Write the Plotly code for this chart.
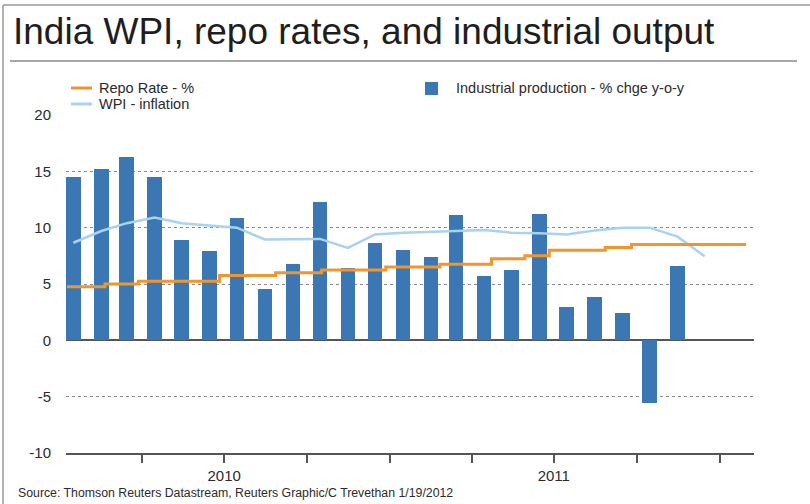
import plotly.graph_objects as go

# ---------------- data ----------------
months_iip = ["2010-01", "2010-02", "2010-03", "2010-04", "2010-05", "2010-06",
              "2010-07", "2010-08", "2010-09", "2010-10", "2010-11", "2010-12",
              "2011-01", "2011-02", "2011-03", "2011-04", "2011-05", "2011-06",
              "2011-07", "2011-08", "2011-09", "2011-10", "2011-11"]
iip = [14.5, 15.2, 16.3, 14.5, 8.9, 7.9, 10.85, 4.6, 6.8, 12.3, 6.4, 8.65,
       8.0, 7.4, 11.1, 5.7, 6.2, 11.2, 3.0, 3.85, 2.4, -5.55, 6.6]

months_wpi = months_iip + ["2011-12"]
wpi = [8.66, 9.7, 10.4, 10.9, 10.4, 10.2, 10.0, 8.95, 9.0, 9.0, 8.2, 9.4,
       9.55, 9.6, 9.7, 9.8, 9.55, 9.5, 9.4, 9.75, 10.0, 10.0, 9.2, 7.47]

repo_dates = ["2010-01-08", "2010-02-19", "2010-03-28", "2010-06-26", "2010-08-27",
              "2010-10-17", "2010-12-27", "2011-02-25", "2011-04-23", "2011-05-30",
              "2011-06-26", "2011-08-27", "2011-09-25", "2012-01-30"]
repo = [4.75, 5.0, 5.25, 5.75, 6.0, 6.25, 6.5, 6.75, 7.25, 7.5, 8.0, 8.25, 8.5, 8.5]

x_tick_dates = ["2010-04-01", "2010-07-01", "2010-10-01", "2011-01-01",
                "2011-04-01", "2011-07-01", "2011-10-01", "2012-01-01"]
x_tick_text = ["", "2010", "", "", "", "2011", "", ""]
y_ticks = [-10, -5, 0, 5, 10, 15, 20]
y_tick_text = ["-10", "-5", "0", "5", "10", "15", "20"]

title_text = "India WPI, repo rates, and industrial output"
source_text = "Source: Thomson Reuters Datastream, Reuters Graphic/C Trevethan 1/19/2012"
name_repo = "Repo Rate - %"
name_wpi = "WPI - inflation"
name_iip = "Industrial production - % chge y-o-y"

# ---------------- style ----------------
C_BAR = "#3b77b2"
C_REPO = "#f2952a"
C_WPI = "#a8d2f0"
FONT = "Liberation Sans, Arial, sans-serif"
TXT = "#2b2b2b"

W, H = 810, 504
L, R, T, B = 66, 56, 115, 51
PW, PH = W - L - R, H - T - B


def px(x):
    return (x - L) / PW


def py(y):
    return (H - B - y) / PH


fig = go.Figure()
fig.add_trace(go.Bar(
    x=[m + "-15" for m in months_iip], y=iip, name=name_iip,
    marker=dict(color=C_BAR, line=dict(width=0)),
    width=16 * 86400000, showlegend=False))
fig.add_trace(go.Scatter(
    x=[m + "-15" for m in months_wpi], y=wpi, name=name_wpi, mode="lines",
    line=dict(color=C_WPI, width=2.5), showlegend=False))
fig.add_trace(go.Scatter(
    x=repo_dates, y=repo, name=name_repo, mode="lines",
    line=dict(color=C_REPO, width=3, shape="hv"), showlegend=False))

shapes = [
    # outer frame
    dict(type="line", xref="paper", yref="paper", x0=px(3), x1=px(810), y0=py(5), y1=py(5),
         line=dict(color="#9a9a9a", width=1.5)),
    dict(type="line", xref="paper", yref="paper", x0=px(3), x1=px(3), y0=py(5), y1=py(504),
         line=dict(color="#9a9a9a", width=1.5)),
    # title separator
    dict(type="line", xref="paper", yref="paper", x0=px(10), x1=px(797), y0=py(61), y1=py(61),
         line=dict(color="#8a8a8a", width=1.5)),
    # legend samples
    dict(type="line", xref="paper", yref="paper", x0=px(71), x1=px(92), y0=py(88), y1=py(88),
         line=dict(color=C_REPO, width=3)),
    dict(type="line", xref="paper", yref="paper", x0=px(71), x1=px(92), y0=py(104), y1=py(104),
         line=dict(color=C_WPI, width=3)),
    dict(type="rect", xref="paper", yref="paper", x0=px(425), x1=px(438), y0=py(82), y1=py(95),
         fillcolor=C_BAR, line=dict(width=0)),
]

annotations = [
    dict(text=title_text, xref="paper", yref="paper", x=px(11), y=py(31),
         xanchor="left", yanchor="middle", showarrow=False,
         font=dict(family=FONT, size=37, color="#1e1e1e")),
    dict(text=name_repo, xref="paper", yref="paper", x=px(97), y=py(88),
         xanchor="left", yanchor="middle", showarrow=False,
         font=dict(family=FONT, size=14.5, color=TXT)),
    dict(text=name_wpi, xref="paper", yref="paper", x=px(97), y=py(104),
         xanchor="left", yanchor="middle", showarrow=False,
         font=dict(family=FONT, size=14.5, color=TXT)),
    dict(text=name_iip, xref="paper", yref="paper", x=px(454), y=py(88),
         xanchor="left", yanchor="middle", showarrow=False,
         font=dict(family=FONT, size=14.5, color=TXT)),
    dict(text=source_text, xref="paper", yref="paper", x=px(16), y=py(493),
         xanchor="left", yanchor="middle", showarrow=False,
         font=dict(family=FONT, size=12.3, color=TXT)),
]

fig.update_layout(
    width=W, height=H, autosize=False,
    margin=dict(l=L, r=R, t=T, b=B, pad=0),
    paper_bgcolor="white", plot_bgcolor="white",
    font=dict(family=FONT, color=TXT),
    bargap=0, showlegend=False,
    shapes=shapes, annotations=annotations,
    xaxis=dict(
        type="date", range=["2010-01-06 21:00", "2012-02-07 17:00"],
        tickmode="array", tickvals=x_tick_dates, ticktext=x_tick_text,
        ticks="outside", ticklen=8, tickwidth=2, tickcolor="#555555",
        showline=True, linecolor="#555555", linewidth=2,
        showgrid=False, zeroline=False,
        tickfont=dict(family=FONT, size=15, color=TXT),
    ),
    yaxis=dict(
        range=[-10, 20], tickmode="array", tickvals=y_ticks, ticktext=y_tick_text,
        showgrid=True, gridcolor="#8c8c8c", griddash="dot", gridwidth=1,
        zeroline=True, zerolinecolor="#555555", zerolinewidth=2,
        showline=False, ticks="", ticklabelstandoff=14,
        tickfont=dict(family=FONT, size=15, color=TXT),
    ),
)

fig.write_html("out.html")
